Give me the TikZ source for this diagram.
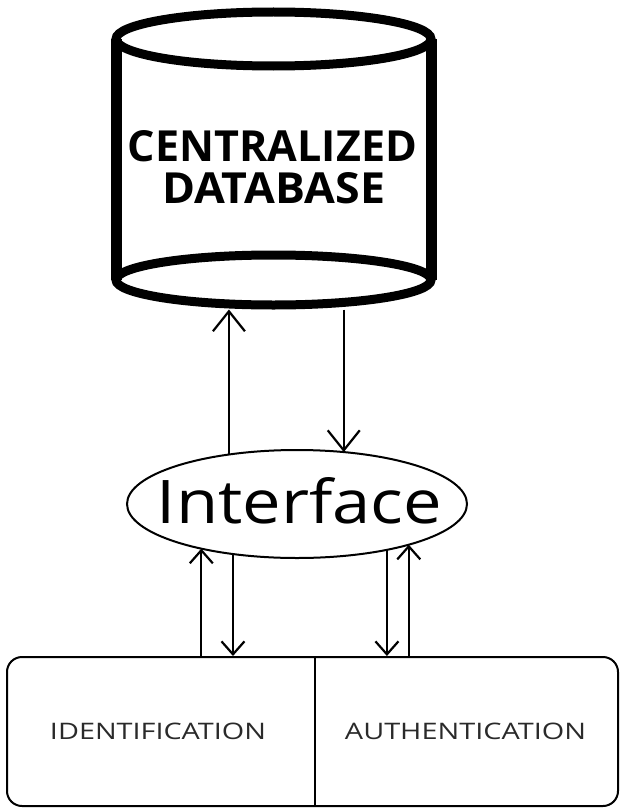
\documentclass[tikz,border=0pt]{standalone}
\usepackage{fontspec}
\setmainfont{Open Sans}
\usepackage{graphicx}
\usetikzlibrary{arrows.meta,shapes.geometric}
\definecolor{labelgray}{HTML}{2A2A2A}
\begin{document}
\begin{tikzpicture}[x=1pt,y=1pt,
  dbring/.style={ellipse, draw, line width=9pt, minimum width=315pt, inner sep=0pt},
  dbside/.style={line width=11pt},
  ifacebox/.style={ellipse, draw, line width=2pt, minimum width=340pt, minimum height=108pt, inner sep=0pt, outer sep=0pt},
  panelbox/.style={draw, line width=2pt, rounded corners=15pt, minimum width=611pt, minimum height=149pt, inner sep=0pt},
  conn/.style={line width=2.2pt},
  bigtip/.style={-{Straight Barb[length=20pt,width=32pt,line width=2.2pt]}},
  smalltip/.style={-{Straight Barb[length=13pt,width=23pt,line width=2.2pt]}},
  txt/.style={anchor=base, inner sep=0pt}
]
\useasboundingbox (0,0) rectangle (619,-808);
% database cylinder
\node[dbring, minimum height=54pt] (dbtop) at (273.5,-39) {};
\node[dbring, minimum height=50pt] (dbbot) at (273.5,-280) {};
\draw[dbside] (dbtop.center -| 116,0) -- (dbbot.center -| 116,0);
\draw[dbside] (dbtop.center -| 431,0) -- (dbbot.center -| 431,0);
\node[txt] (dbl1) at (272.5,-161) {\resizebox{289pt}{31pt}{\bfseries CENTRALIZED}};
\node[txt] (dbl2) at (273.5,-203) {\resizebox{223pt}{31pt}{\bfseries DATABASE}};
% interface
\node[ifacebox] (iface) at (297,-504) {};
\node[txt] (ifl) at (299.5,-523) {\resizebox{285pt}{46pt}{Interface}};
% bottom panel
\node[panelbox] (panel) at (312.5,-731.5) {};
\coordinate (divx) at (315,0);
\draw[line width=2pt] (divx |- panel.north) -- (divx |- panel.south);
\node[txt, text=labelgray] (ident) at (158,-739) {\resizebox{216pt}{16.5pt}{IDENTIFICATION}};
\node[txt, text=labelgray] (auth) at (465.5,-739) {\resizebox{241pt}{16.5pt}{AUTHENTICATION}};
% connectors database <-> interface
\draw[conn,bigtip] (iface.144.9) -- (iface.144.9 |- dbbot.south);
\draw[conn,bigtip] (iface.48.5 |- dbbot.south) -- (iface.48.5);
% connectors interface <-> panel
\draw[conn,smalltip] (iface.205.6 |- panel.north) -- (iface.205.6);
\draw[conn,smalltip] (iface.218.0) -- (iface.218.0 |- panel.north);
\draw[conn,smalltip] (iface.333.0) -- (iface.333.0 |- panel.north);
\draw[conn,smalltip] (iface.340.6 |- panel.north) -- (iface.340.6);
\end{tikzpicture}
\end{document}
